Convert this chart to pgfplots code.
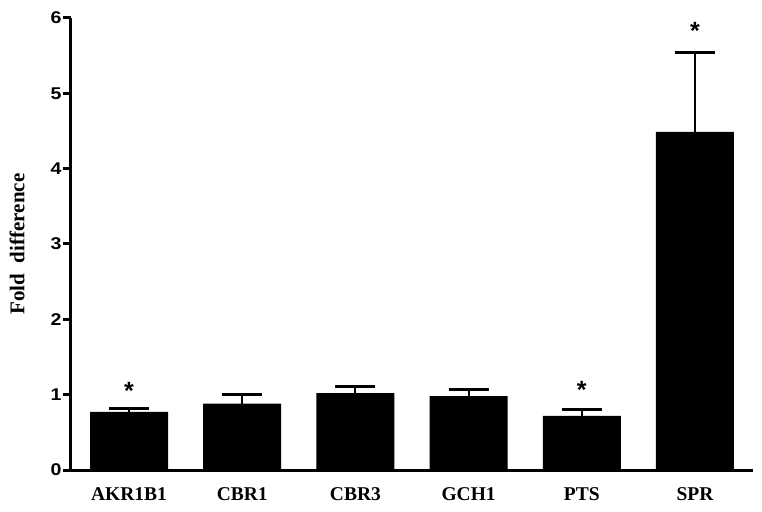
\documentclass[border=0pt]{standalone}
\usepackage{pgfplots}
\pgfplotsset{compat=1.18}
\usepackage{fontspec}
\newfontfamily\sansf{Liberation Sans}
\newfontfamily\seriff{Liberation Serif}
\begin{document}
\begin{tikzpicture}
\begin{axis}[
  name=ax,
  scale only axis,
  width=682pt, height=452pt,
  xmin=-0.513, xmax=5.513,
  ymin=0, ymax=6,
  axis x line=bottom, axis y line=left,
  axis line style={-, line width=3pt, black},
  xtick={0,1,2,3,4,5},
  xticklabels={AKR1B1,CBR1,CBR3,GCH1,PTS,SPR},
  xtick style={draw=none},
  ytick={0,1,2,3,4,5,6},
  tick align=outside,
  major tick length=8pt,
  ytick style={line width=3pt, black},
  /pgf/number format/assume math mode=true,
  yticklabel style={font=\sansf\bfseries\fontsize{17}{19}\selectfont, inner xsep=1pt, xscale=1.15},
  xticklabel style={font=\seriff\bfseries\fontsize{19.5}{22}\selectfont, yshift=-6pt},
  ylabel={Fold\ \ difference},
  ylabel style={font=\seriff\bfseries\fontsize{21}{24}\selectfont, at={(axis description cs:0,0.5)}, anchor=center, yshift=54pt},
  clip=false,
]
\addplot[ybar, bar width=78pt, fill=black, draw=none,
  error bars/.cd, y dir=plus, y explicit,
  error bar style={line width=2pt, black},
  error mark options={rotate=90, line width=3pt, mark size=20pt, black}]
  coordinates {
    (0,0.77) +- (0,0.05)
    (1,0.88) +- (0,0.12)
    (2,1.02) +- (0,0.09)
    (3,0.98) +- (0,0.09)
    (4,0.72) +- (0,0.08)
    (5,4.49) +- (0,1.05)
  };
\addplot[draw=none, mark=none, nodes near coords={\sansf\bfseries\fontsize{25}{27}\selectfont *},
  every node near coord/.style={anchor=center, inner sep=0pt, yshift=-4pt}]
  coordinates {(0,1.10) (4,1.12) (5,5.88)};
\end{axis}
\pgfresetboundingbox
\path[use as bounding box] ([shift={(-71pt,-41pt)}]ax.south west) rectangle ([shift={(9pt,18pt)}]ax.north east);
\end{tikzpicture}
\end{document}
